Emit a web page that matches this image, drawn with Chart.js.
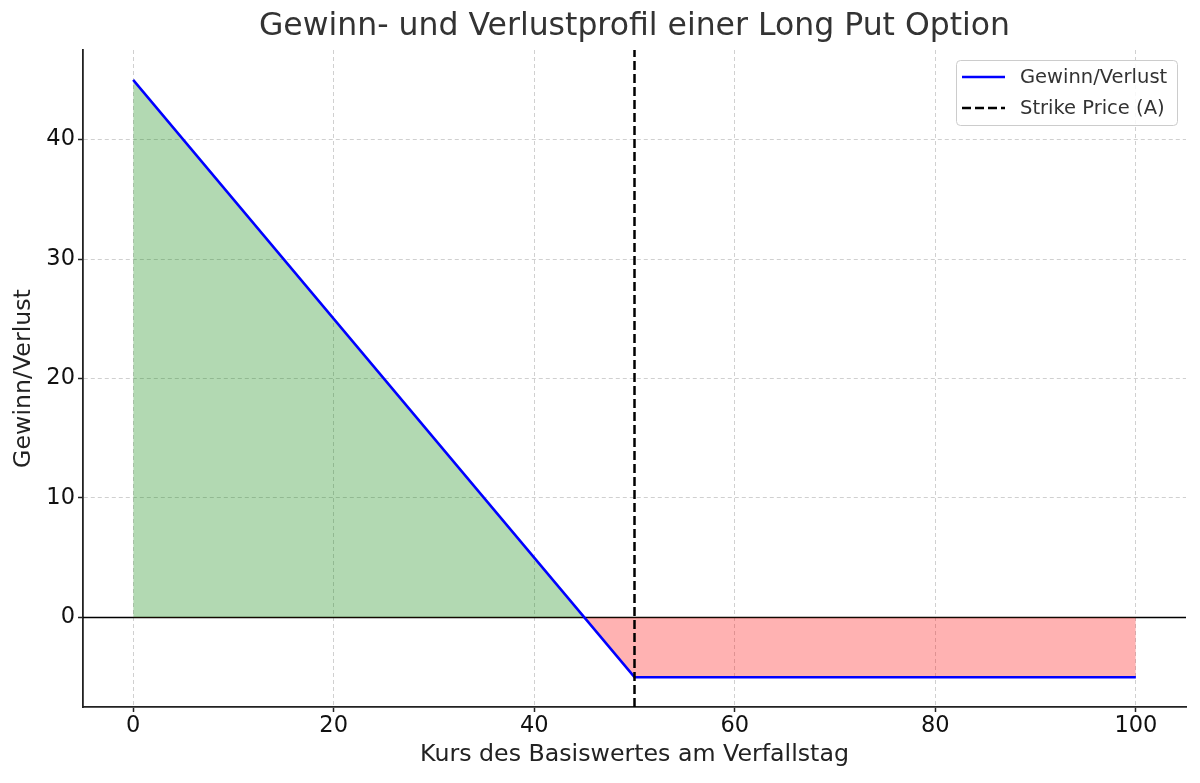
<!DOCTYPE html>
<html>
<head>
<meta charset="utf-8">
<script src="https://cdn.jsdelivr.net/npm/chart.js@4/dist/chart.umd.min.js"></script>
<style>
html,body{margin:0;padding:0;background:#fff;}
canvas{display:block;}
</style>
</head>
<body>
<canvas id="c" width="1200" height="783"></canvas>
<script>
// ---- data ----
const priceX = [0, 50, 100];
const profitY = [45, -5, -5];
const strikePrice = 50;
const xTicks = [0, 20, 40, 60, 80, 100];
const yTicks = [0, 10, 20, 30, 40];
const xRange = [-5, 105];
const yRange = [-7.5, 47.5];
const titleText = 'Gewinn- und Verlustprofil einer Long Put Option';
const xLabel = 'Kurs des Basiswertes am Verfallstag';
const yLabel = 'Gewinn/Verlust';
const seriesLabels = ['Gewinn/Verlust', 'Strike Price (A)'];

const FONT = "'DejaVu Sans', sans-serif";

const profitData = priceX.map((x, i) => ({x: x, y: profitY[i]}));
const strikeData = yRange.map(y => ({x: strikePrice, y: y}));
const zeroData = xRange.map(x => ({x: x, y: 0}));

const legendPlugin = {
  id: 'boxLegend',
  afterDraw(chart) {
    const ctx = chart.ctx;
    const items = chart.data.datasets.filter(d => d.showInLegend);
    const x0 = 956, y0 = 60, w = 221, h = 65;
    ctx.save();
    ctx.fillStyle = 'rgba(255,255,255,0.85)';
    ctx.strokeStyle = '#cccccc';
    ctx.lineWidth = 1;
    ctx.beginPath();
    ctx.roundRect(x0 + 0.5, y0 + 0.5, w, h, 4);
    ctx.fill();
    ctx.stroke();
    ctx.font = '19.5px ' + FONT;
    ctx.textBaseline = 'middle';
    items.forEach((d, i) => {
      const cy = y0 + 17 + i * 31;
      ctx.strokeStyle = d.borderColor;
      ctx.lineWidth = d.borderWidth;
      ctx.setLineDash(d.borderDash || []);
      ctx.beginPath();
      ctx.moveTo(x0 + 6, cy);
      ctx.lineTo(x0 + 49, cy);
      ctx.stroke();
      ctx.setLineDash([]);
      ctx.fillStyle = '#333';
      ctx.fillText(d.label, x0 + 64, cy + 1);
    });
    ctx.restore();
  }
};

new Chart(document.getElementById('c'), {
  type: 'line',
  data: {
    datasets: [
      {
        label: seriesLabels[0],
        showInLegend: true,
        data: profitData,
        borderColor: '#0000ff',
        borderWidth: 2.5,
        pointRadius: 0,
        tension: 0,
        order: 2,
        fill: {target: {value: 0}, above: 'rgba(0,128,0,0.3)', below: 'rgba(255,0,0,0.3)'}
      },
      {
        label: seriesLabels[1],
        showInLegend: true,
        data: strikeData,
        borderColor: '#000000',
        borderWidth: 2.5,
        borderDash: [9, 4],
        pointRadius: 0,
        fill: false,
        order: 1
      },
      {
        label: '',
        data: zeroData,
        borderColor: '#000000',
        borderWidth: 1.5,
        pointRadius: 0,
        fill: false,
        order: 3
      }
    ]
  },
  options: {
    responsive: false,
    devicePixelRatio: 1,
    animation: false,
    layout: {padding: {left: 0, right: 14, top: 0, bottom: 0}},
    plugins: {
      legend: {display: false},
      tooltip: {enabled: false},
      title: {
        display: true,
        fullSize: false,
        text: titleText,
        color: '#333',
        font: {family: FONT, size: 31.5, weight: 'normal', lineHeight: 1.2},
        padding: {top: 7.5, bottom: 4.7}
      }
    },
    scales: {
      x: {
        type: 'linear',
        min: xRange[0],
        max: xRange[1],
        afterBuildTicks: s => { s.ticks = xTicks.map(v => ({value: v})); },
        afterFit: s => { s.height = 76; },
        ticks: {color: '#111', font: {family: FONT, size: 22.5}, padding: 1, maxRotation: 0},
        grid: {color: 'rgba(176,176,176,0.6)', lineWidth: 1, tickColor: '#222', tickLength: 5, tickWidth: 1.5},
        border: {display: true, color: '#222', width: 1.8, dash: [4, 3]},
        title: {display: true, text: xLabel, color: '#222', font: {family: FONT, size: 23.7}, padding: {top: 0, bottom: 13.6}}
      },
      y: {
        type: 'linear',
        min: yRange[0],
        max: yRange[1],
        afterBuildTicks: s => { s.ticks = yTicks.map(v => ({value: v})); },
        afterFit: s => { s.width = 83; },
        ticks: {color: '#111', font: {family: FONT, size: 22.5}, padding: 3},
        grid: {color: 'rgba(176,176,176,0.6)', lineWidth: 1, tickColor: '#222', tickLength: 5, tickWidth: 1.5},
        border: {display: true, color: '#222', width: 1.8, dash: [4, 3]},
        title: {display: true, text: yLabel, color: '#222', font: {family: FONT, size: 23.7}, padding: {top: 9.8, bottom: 0}}
      }
    }
  },
  plugins: [legendPlugin]
});
</script>
</body>
</html>
